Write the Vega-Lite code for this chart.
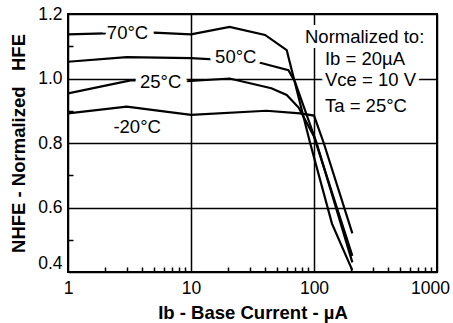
{
  "$schema": "https://vega.github.io/schema/vega-lite/v6.json",
  "width": 369,
  "height": 258,
  "autosize": "none",
  "padding": {"left": 68, "top": 14, "right": 16, "bottom": 51},
  "background": "white",
  "config": {
    "view": {"stroke": "black", "strokeWidth": 2},
    "font": "Liberation Sans"
  },
  "datasets": {
    "curves": [
      {"temp": "70", "ib": 1, "hfe": 1.137},
      {"temp": "70", "ib": 2, "hfe": 1.14},
      {"temp": "70", "ib": 5, "hfe": 1.142},
      {"temp": "70", "ib": 10, "hfe": 1.137},
      {"temp": "70", "ib": 20.6, "hfe": 1.16},
      {"temp": "70", "ib": 40, "hfe": 1.135},
      {"temp": "70", "ib": 60, "hfe": 1.088},
      {"temp": "70", "ib": 93, "hfe": 0.8},
      {"temp": "70", "ib": 140, "hfe": 0.55},
      {"temp": "70", "ib": 205, "hfe": 0.405},
      {"temp": "50", "ib": 1, "hfe": 1.052},
      {"temp": "50", "ib": 3, "hfe": 1.066},
      {"temp": "50", "ib": 10, "hfe": 1.063},
      {"temp": "50", "ib": 34, "hfe": 1.052},
      {"temp": "50", "ib": 62, "hfe": 1.026},
      {"temp": "50", "ib": 70, "hfe": 0.99},
      {"temp": "50", "ib": 105, "hfe": 0.8},
      {"temp": "50", "ib": 205, "hfe": 0.43},
      {"temp": "25", "ib": 1, "hfe": 0.954},
      {"temp": "25", "ib": 3.3, "hfe": 0.995},
      {"temp": "25", "ib": 8, "hfe": 0.99},
      {"temp": "25", "ib": 20.6, "hfe": 1.0},
      {"temp": "25", "ib": 45, "hfe": 0.97},
      {"temp": "25", "ib": 60, "hfe": 0.949},
      {"temp": "25", "ib": 75, "hfe": 0.91},
      {"temp": "25", "ib": 100, "hfe": 0.82},
      {"temp": "25", "ib": 205, "hfe": 0.45},
      {"temp": "-20", "ib": 1, "hfe": 0.892},
      {"temp": "-20", "ib": 3, "hfe": 0.913},
      {"temp": "-20", "ib": 10, "hfe": 0.887},
      {"temp": "-20", "ib": 41, "hfe": 0.9},
      {"temp": "-20", "ib": 77, "hfe": 0.892},
      {"temp": "-20", "ib": 100, "hfe": 0.885},
      {"temp": "-20", "ib": 120, "hfe": 0.8},
      {"temp": "-20", "ib": 205, "hfe": 0.52}
    ],
    "labels": [
      {"x": 2.07, "y": 1.14, "text": "70°C"},
      {"x": 15.7, "y": 1.068, "text": "50°C"},
      {"x": 3.85, "y": 0.99, "text": "25°C"},
      {"x": 2.34, "y": 0.85, "text": "-20°C"},
      {"x": 84.5, "y": 1.13, "text": "Normalized to:"},
      {"x": 122.8, "y": 1.06, "text": "Ib = 20µA"},
      {"x": 122.8, "y": 0.995, "text": "Vce = 10 V"},
      {"x": 122.8, "y": 0.915, "text": "Ta = 25°C"}
    ]
  },
  "layer": [
    {
      "data": {"name": "curves"},
      "mark": {"type": "line", "color": "black", "strokeWidth": 2.2, "clip": true},
      "encoding": {
        "x": {
          "field": "ib", "type": "quantitative",
          "scale": {"type": "log", "domain": [1, 1000]},
          "axis": {
            "orient": "bottom",
            "values": [1, 10, 100, 1000], "format": ".0f",
            "grid": true, "gridColor": "black", "gridWidth": 1.5, "gridOpacity": 1,
            "domain": false, "ticks": false, "tickSize": 0,
            "labelFontSize": 17.5, "labelColor": "black", "labelPadding": 7, "labelFlush": false,
            "labelOffset": {"condition": {"test": "datum.value >= 1000", "value": -7}, "value": 0},
            "title": "Ib - Base Current - µA", "titleFontSize": 18.5, "titleFontWeight": "bold",
            "titleColor": "black", "titlePadding": 7
          }
        },
        "y": {
          "field": "hfe", "type": "quantitative",
          "scale": {"domain": [0.4, 1.2]},
          "axis": {
            "orient": "left",
            "values": [0.4, 0.6, 0.8, 1.0, 1.2], "format": ".1f",
            "grid": true, "gridColor": "black", "gridWidth": 1.5, "gridOpacity": 1,
            "domain": false, "ticks": false, "tickSize": 0,
            "labelFontSize": 17.5, "labelColor": "black", "labelPadding": 6,
            "labelBaseline": {"condition": {"test": "datum.value <= 0.4", "value": "bottom"}, "value": "middle"},
            "title": "NHFE - Normalized\u00a0\u00a0\u00a0HFE", "titleFontSize": 18.5, "titleFontWeight": "bold",
            "titleColor": "black", "titlePadding": 9
          }
        },
        "detail": {"field": "temp"}
      }
    },
    {
      "data": {"name": "labels"},
      "mark": {"type": "text", "align": "left", "baseline": "middle", "fontSize": 18.5, "fill": "white", "stroke": "white", "strokeWidth": 10},
      "encoding": {
        "x": {"field": "x", "type": "quantitative", "axis": null},
        "y": {"field": "y", "type": "quantitative", "axis": null},
        "text": {"field": "text"}
      }
    },
    {
      "data": {"name": "labels"},
      "mark": {"type": "text", "align": "left", "baseline": "middle", "fontSize": 18.5, "color": "black"},
      "encoding": {
        "x": {"field": "x", "type": "quantitative", "axis": null},
        "y": {"field": "y", "type": "quantitative", "axis": null},
        "text": {"field": "text"}
      }
    },
    {
      "data": {"name": "curves"},
      "mark": {"type": "point", "opacity": 0},
      "encoding": {
        "x": {
          "field": "ib", "type": "quantitative",
          "axis": {
            "orient": "bottom",
            "values": [2, 3, 4, 5, 6, 7, 8, 9, 20, 30, 40, 50, 60, 70, 80, 90, 200, 300, 400, 500, 600, 700, 800, 900],
            "labels": false, "grid": false, "domain": false, "ticks": true, "offset": -5,
            "tickSize": 5, "tickWidth": 1.5, "tickColor": "black", "title": null
          }
        },
        "y": {
          "field": "hfe", "type": "quantitative",
          "axis": {
            "orient": "left",
            "values": [0.5, 0.7, 0.9, 1.1],
            "labels": false, "grid": false, "domain": false, "ticks": true, "offset": -5,
            "tickSize": 5, "tickWidth": 1.5, "tickColor": "black", "title": null
          }
        }
      }
    }
  ],
  "resolve": {"axis": {"x": "independent", "y": "independent"}}
}
